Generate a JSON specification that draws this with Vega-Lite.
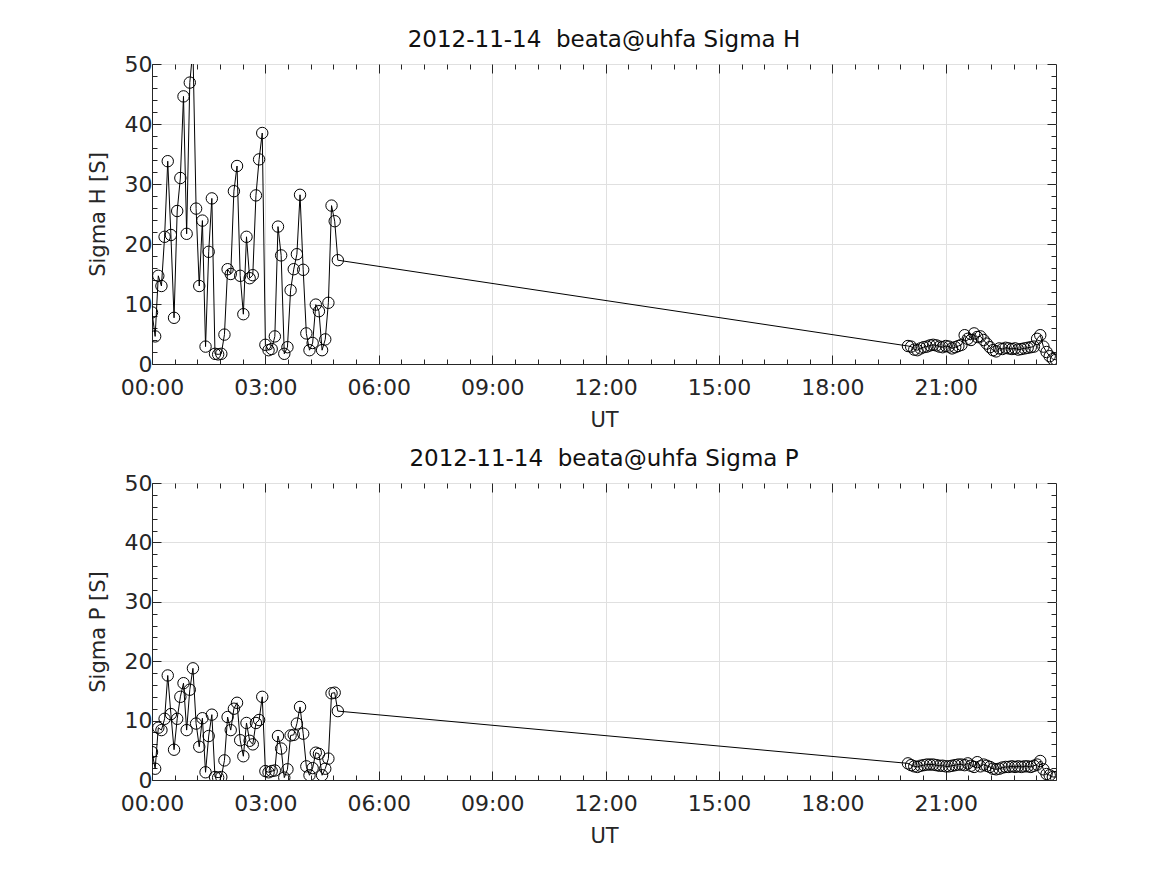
{
  "$schema": "https://vega.github.io/schema/vega-lite/v6.json",
  "padding": {"left": 86, "top": 28, "right": 10, "bottom": 10},
  "background": "white",
  "config": {
    "font": "DejaVu Sans",
    "view": {"stroke": "#262626", "strokeWidth": 1},
    "axis": {
      "labelFont": "DejaVu Sans", "labelFontSize": 22, "labelColor": "#262626", "labelFlush": false,
      "titleFont": "DejaVu Sans", "titleFontSize": 21, "titleFontWeight": "normal", "titleColor": "#262626",
      "domainColor": "#262626", "tickColor": "#262626", "gridColor": "#e0e0e0", "labelOverlap": false
    },
    "title": {"font": "DejaVu Sans", "fontSize": 23, "fontWeight": "normal", "color": "#111111", "offset": 1}
  },
  "data": {"values": [
    {"minute": 0, "H": 8.6, "P": 4.7},
    {"minute": 5, "H": 4.6, "P": 1.9},
    {"minute": 10, "H": 14.7, "P": 8.8},
    {"minute": 15, "H": 13.0, "P": 8.4},
    {"minute": 20, "H": 21.2, "P": 10.3},
    {"minute": 25, "H": 33.8, "P": 17.6},
    {"minute": 30, "H": 21.5, "P": 11.1},
    {"minute": 35, "H": 7.7, "P": 5.1},
    {"minute": 40, "H": 25.5, "P": 10.3},
    {"minute": 45, "H": 31.0, "P": 14.0},
    {"minute": 50, "H": 44.6, "P": 16.3},
    {"minute": 55, "H": 21.7, "P": 8.4},
    {"minute": 60, "H": 46.9, "P": 15.2},
    {"minute": 65, "H": 52.5, "P": 18.8},
    {"minute": 70, "H": 25.9, "P": 9.5},
    {"minute": 75, "H": 13.0, "P": 5.6},
    {"minute": 80, "H": 23.9, "P": 10.4},
    {"minute": 85, "H": 2.9, "P": 1.3},
    {"minute": 90, "H": 18.7, "P": 7.4},
    {"minute": 95, "H": 27.6, "P": 11.0},
    {"minute": 100, "H": 1.7, "P": 0.5},
    {"minute": 105, "H": 1.6, "P": 0.4},
    {"minute": 110, "H": 1.7, "P": 0.5},
    {"minute": 115, "H": 4.9, "P": 3.3},
    {"minute": 120, "H": 15.8, "P": 10.6},
    {"minute": 125, "H": 15.0, "P": 8.4},
    {"minute": 130, "H": 28.8, "P": 12.0},
    {"minute": 135, "H": 33.0, "P": 13.0},
    {"minute": 140, "H": 14.7, "P": 6.7},
    {"minute": 145, "H": 8.3, "P": 4.0},
    {"minute": 150, "H": 21.2, "P": 9.6},
    {"minute": 155, "H": 14.3, "P": 6.6},
    {"minute": 160, "H": 14.8, "P": 6.0},
    {"minute": 165, "H": 28.1, "P": 9.6},
    {"minute": 170, "H": 34.1, "P": 10.1},
    {"minute": 175, "H": 38.5, "P": 14.0},
    {"minute": 180, "H": 3.2, "P": 1.5},
    {"minute": 185, "H": 2.3, "P": 1.3},
    {"minute": 190, "H": 2.5, "P": 1.5},
    {"minute": 195, "H": 4.6, "P": 1.6},
    {"minute": 200, "H": 22.9, "P": 7.4},
    {"minute": 205, "H": 18.1, "P": 5.3},
    {"minute": 210, "H": 1.7, "P": 0.4},
    {"minute": 215, "H": 2.8, "P": 1.8},
    {"minute": 220, "H": 12.3, "P": 7.5},
    {"minute": 225, "H": 15.8, "P": 7.6},
    {"minute": 230, "H": 18.3, "P": 9.5},
    {"minute": 235, "H": 28.2, "P": 12.3},
    {"minute": 240, "H": 15.7, "P": 7.8},
    {"minute": 245, "H": 5.1, "P": 2.3},
    {"minute": 250, "H": 2.3, "P": 0.8},
    {"minute": 255, "H": 3.5, "P": 2.0},
    {"minute": 260, "H": 9.9, "P": 4.6},
    {"minute": 265, "H": 8.8, "P": 4.4},
    {"minute": 270, "H": 2.3, "P": 0.8},
    {"minute": 275, "H": 4.1, "P": 1.9},
    {"minute": 280, "H": 10.2, "P": 3.6},
    {"minute": 285, "H": 26.4, "P": 14.6},
    {"minute": 290, "H": 23.8, "P": 14.7},
    {"minute": 295, "H": 17.3, "P": 11.6},
    {"minute": 1200, "H": 3.0, "P": 2.8},
    {"minute": 1205, "H": 2.9, "P": 2.5},
    {"minute": 1210, "H": 2.4, "P": 2.3},
    {"minute": 1215, "H": 2.3, "P": 2.2},
    {"minute": 1220, "H": 2.6, "P": 2.4},
    {"minute": 1225, "H": 2.8, "P": 2.5},
    {"minute": 1230, "H": 2.9, "P": 2.6},
    {"minute": 1235, "H": 3.1, "P": 2.6},
    {"minute": 1240, "H": 3.2, "P": 2.6},
    {"minute": 1245, "H": 3.1, "P": 2.5},
    {"minute": 1250, "H": 2.9, "P": 2.4},
    {"minute": 1255, "H": 2.8, "P": 2.4},
    {"minute": 1260, "H": 3.0, "P": 2.3},
    {"minute": 1265, "H": 2.9, "P": 2.3},
    {"minute": 1270, "H": 2.6, "P": 2.4},
    {"minute": 1275, "H": 2.8, "P": 2.5},
    {"minute": 1280, "H": 3.0, "P": 2.6},
    {"minute": 1285, "H": 3.2, "P": 2.6},
    {"minute": 1290, "H": 4.8, "P": 2.5},
    {"minute": 1295, "H": 4.2, "P": 2.8},
    {"minute": 1300, "H": 4.0, "P": 2.4},
    {"minute": 1305, "H": 5.1, "P": 2.2},
    {"minute": 1310, "H": 4.5, "P": 3.0},
    {"minute": 1315, "H": 4.6, "P": 2.3},
    {"minute": 1320, "H": 4.0, "P": 2.6},
    {"minute": 1325, "H": 3.4, "P": 2.4},
    {"minute": 1330, "H": 2.8, "P": 2.2},
    {"minute": 1335, "H": 2.3, "P": 1.9},
    {"minute": 1340, "H": 2.1, "P": 1.8},
    {"minute": 1345, "H": 2.6, "P": 1.9},
    {"minute": 1350, "H": 2.5, "P": 2.1},
    {"minute": 1355, "H": 2.7, "P": 2.2},
    {"minute": 1360, "H": 2.6, "P": 2.2},
    {"minute": 1365, "H": 2.5, "P": 2.3},
    {"minute": 1370, "H": 2.6, "P": 2.2},
    {"minute": 1375, "H": 2.4, "P": 2.3},
    {"minute": 1380, "H": 2.5, "P": 2.2},
    {"minute": 1385, "H": 2.6, "P": 2.3},
    {"minute": 1390, "H": 2.7, "P": 2.3},
    {"minute": 1395, "H": 2.8, "P": 2.2},
    {"minute": 1400, "H": 2.9, "P": 2.4},
    {"minute": 1405, "H": 4.2, "P": 2.6},
    {"minute": 1410, "H": 4.8, "P": 3.2},
    {"minute": 1415, "H": 2.9, "P": 1.8},
    {"minute": 1420, "H": 2.0, "P": 1.0},
    {"minute": 1425, "H": 1.3, "P": 0.8},
    {"minute": 1430, "H": 0.8, "P": 0.5},
    {"minute": 1435, "H": 0.7, "P": 0.5}
  ]},
  "spacing": 16,
  "vconcat": [
    {
      "title": "2012-11-14\u00a0\u00a0beata@uhfa Sigma H",
      "width": 904,
      "height": 300,
      "resolve": {"axis": {"x": "independent", "y": "independent"}},
      "layer": [
        {
          "mark": {"type": "line", "color": "black", "strokeWidth": 1, "clip": true},
          "encoding": {
            "x": {"field": "minute", "type": "quantitative", "scale": {"domain": [0, 1435], "nice": false, "zero": false},
              "axis": {"orient": "bottom", "title": "UT", "values": [0,36,72,108,144,180,216,252,288,324,360,396,432,468,504,540,576,612,648,684,720,756,792,828,864,900,936,972,1008,1044,1080,1116,1152,1188,1224,1260,1296,1332,1368,1404],
                "labelExpr": "datum.value % 180 === 0 ? format(datum.value/60, '02d') + ':00' : ''",
                "tickSize": {"condition": {"test": "datum.value % 180 === 0", "value": -9}, "value": -5},
                "gridOpacity": {"condition": {"test": "datum.value % 180 === 0", "value": 1}, "value": 0},
                "grid": true, "labelPadding": 22, "titlePadding": 7}},
            "y": {"field": "H", "type": "quantitative", "scale": {"domain": [0, 50], "nice": false},
              "axis": {"orient": "left", "title": "Sigma H [S]", "values": [0,2,4,6,8,10,12,14,16,18,20,22,24,26,28,30,32,34,36,38,40,42,44,46,48,50],
                "labelExpr": "datum.value % 10 === 0 ? datum.label : ''",
                "tickSize": {"condition": {"test": "datum.value % 10 === 0", "value": -9}, "value": -5},
                "gridOpacity": {"condition": {"test": "datum.value % 10 === 0", "value": 1}, "value": 0},
                "grid": true, "labelPadding": 9, "titlePadding": 16}}
          }
        },
        {
          "mark": {"type": "point", "shape": "circle", "filled": false, "stroke": "black", "strokeWidth": 1, "size": 130, "opacity": 1, "clip": true},
          "encoding": {
            "x": {"field": "minute", "type": "quantitative",
              "axis": {"orient": "top", "title": null, "labels": false, "grid": false, "domain": false, "values": [0,36,72,108,144,180,216,252,288,324,360,396,432,468,504,540,576,612,648,684,720,756,792,828,864,900,936,972,1008,1044,1080,1116,1152,1188,1224,1260,1296,1332,1368,1404],
                "tickSize": {"condition": {"test": "datum.value % 180 === 0", "value": -9}, "value": -5}}},
            "y": {"field": "H", "type": "quantitative",
              "axis": {"orient": "right", "title": null, "labels": false, "grid": false, "domain": false, "values": [0,2,4,6,8,10,12,14,16,18,20,22,24,26,28,30,32,34,36,38,40,42,44,46,48,50],
                "tickSize": {"condition": {"test": "datum.value % 10 === 0", "value": -9}, "value": -5}}}
          }
        }
      ]
    },
    {
      "title": "2012-11-14\u00a0\u00a0beata@uhfa Sigma P",
      "width": 904,
      "height": 297,
      "resolve": {"axis": {"x": "independent", "y": "independent"}},
      "layer": [
        {
          "mark": {"type": "line", "color": "black", "strokeWidth": 1, "clip": true},
          "encoding": {
            "x": {"field": "minute", "type": "quantitative", "scale": {"domain": [0, 1435], "nice": false, "zero": false},
              "axis": {"orient": "bottom", "title": "UT", "values": [0,36,72,108,144,180,216,252,288,324,360,396,432,468,504,540,576,612,648,684,720,756,792,828,864,900,936,972,1008,1044,1080,1116,1152,1188,1224,1260,1296,1332,1368,1404],
                "labelExpr": "datum.value % 180 === 0 ? format(datum.value/60, '02d') + ':00' : ''",
                "tickSize": {"condition": {"test": "datum.value % 180 === 0", "value": -9}, "value": -5},
                "gridOpacity": {"condition": {"test": "datum.value % 180 === 0", "value": 1}, "value": 0},
                "grid": true, "labelPadding": 22, "titlePadding": 7}},
            "y": {"field": "P", "type": "quantitative", "scale": {"domain": [0, 50], "nice": false},
              "axis": {"orient": "left", "title": "Sigma P [S]", "values": [0,2,4,6,8,10,12,14,16,18,20,22,24,26,28,30,32,34,36,38,40,42,44,46,48,50],
                "labelExpr": "datum.value % 10 === 0 ? datum.label : ''",
                "tickSize": {"condition": {"test": "datum.value % 10 === 0", "value": -9}, "value": -5},
                "gridOpacity": {"condition": {"test": "datum.value % 10 === 0", "value": 1}, "value": 0},
                "grid": true, "labelPadding": 9, "titlePadding": 16}}
          }
        },
        {
          "mark": {"type": "point", "shape": "circle", "filled": false, "stroke": "black", "strokeWidth": 1, "size": 130, "opacity": 1, "clip": true},
          "encoding": {
            "x": {"field": "minute", "type": "quantitative",
              "axis": {"orient": "top", "title": null, "labels": false, "grid": false, "domain": false, "values": [0,36,72,108,144,180,216,252,288,324,360,396,432,468,504,540,576,612,648,684,720,756,792,828,864,900,936,972,1008,1044,1080,1116,1152,1188,1224,1260,1296,1332,1368,1404],
                "tickSize": {"condition": {"test": "datum.value % 180 === 0", "value": -9}, "value": -5}}},
            "y": {"field": "P", "type": "quantitative",
              "axis": {"orient": "right", "title": null, "labels": false, "grid": false, "domain": false, "values": [0,2,4,6,8,10,12,14,16,18,20,22,24,26,28,30,32,34,36,38,40,42,44,46,48,50],
                "tickSize": {"condition": {"test": "datum.value % 10 === 0", "value": -9}, "value": -5}}}
          }
        }
      ]
    }
  ]
}
